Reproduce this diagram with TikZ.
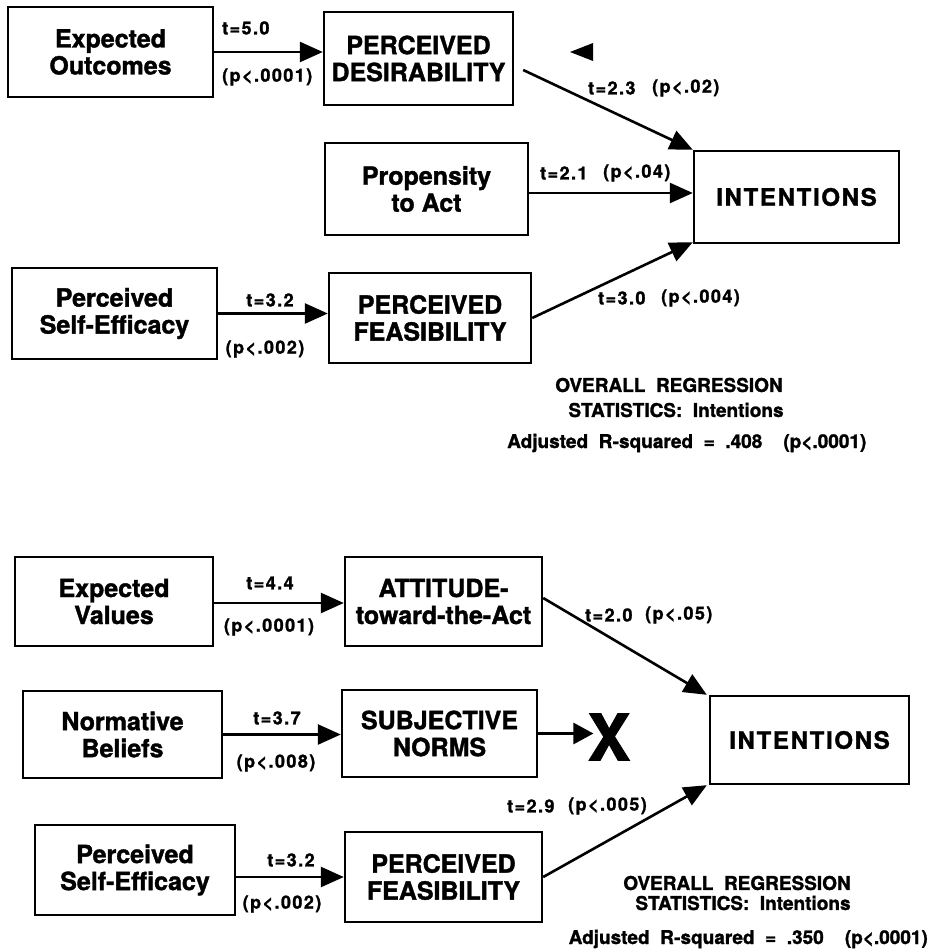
\documentclass[tikz,border=0pt]{standalone}
\usepackage{fontspec}
\setmainfont{TeX Gyre Heros}[BoldFeatures={FakeBold=1.4}]
\newfontfamily\labelfont{TeX Gyre Heros}[LetterSpace=8,BoldFeatures={FakeBold=1.4}]
\newfontfamily\spacedfont{TeX Gyre Heros}[LetterSpace=7,BoldFeatures={FakeBold=1.4}]
\usetikzlibrary{arrows.meta}

\begin{document}
\begin{tikzpicture}[x=1pt,y=-1pt,
  box/.style={draw, line width=2.4pt, align=center, inner sep=0pt,
    font=\fontsize{25}{27}\selectfont\bfseries},
  target/.style={box, font=\spacedfont\fontsize{24}{27}\selectfont\bfseries},
  arr/.style={line width=2.6pt, -{Triangle[length=23pt,width=20pt]}},
  stat/.style={inner sep=0pt, font=\labelfont\fontsize{18}{20}\selectfont\bfseries},
  summary/.style={inner sep=0pt, font=\fontsize{19}{22}\selectfont\bfseries},
]
\useasboundingbox (0,0) rectangle (930,952);

% ---------------- upper model ----------------
\node[box, minimum width=205pt, minimum height=90pt] (eo)   at (110.5,52)  {Expected\\Outcomes};
\node[box, minimum width=189pt, minimum height=93pt] (pd)   at (418.5,58.5) {PERCEIVED\\DESIRABILITY};
\node[box, minimum width=203pt, minimum height=92pt] (pa)   at (426.5,189) {Propensity\\to Act};
\node[target, minimum width=205pt, minimum height=92pt] (int1) at (796.5,197) {INTENTIONS};
\node[box, minimum width=205pt, minimum height=91pt] (pse1) at (114.5,313.5) {Perceived\\Self-Efficacy};
\node[box, minimum width=202pt, minimum height=90pt] (pf1)  at (430,318)   {PERCEIVED\\FEASIBILITY};

\draw[arr] (eo.east) -- (eo.east -| pd.west);
\draw[arr] ([xshift=9pt,yshift=-11.5pt]pd.east) -- (int1.north west);
\draw[arr] ([yshift=-4pt]pa.east) -- ([yshift=-4pt]pa.east -| int1.west);
\draw[arr] (pse1.east) -- (pse1.east -| pf1.west);
\draw[arr] (pf1.east) -- ([yshift=2pt]int1.south west);

% loose arrowhead beside the desirability box
\fill (570,52) -- (593,43) -- (593,61) -- cycle;

\node[stat, anchor=west] (t1)  at (222,28)  {t=5.0};
\node[stat, anchor=west] (p1)  at (222,77)  {(p<.0001)};
\node[stat, anchor=west] (t2)  at (588,88)  {t=2.3};
\node[stat, anchor=west] (p2)  at (652,88)  {(p<.02)};
\node[stat, anchor=west] (t3)  at (540,173) {t=2.1};
\node[stat, anchor=west] (p3)  at (603,173) {(p<.04)};
\node[stat] (t4) at (270,300) {t=3.2};
\node[stat] (p4) at (265,349) {(p<.002)};
\node[stat, anchor=west] (t5)  at (598,298) {t=3.0};
\node[stat, anchor=west] (p5)  at (661,298) {(p<.004)};

\node[summary] (s1a) at (669,385) {OVERALL~~REGRESSION};
\node[summary] (s1b) at (676,410) {STATISTICS:~~Intentions};
\node[summary, anchor=west] (s1c) at (507,443) {Adjusted~~R-squared~~=~~.408~~~~(p<.0001)};

% ---------------- lower model ----------------
\node[box, minimum width=198pt, minimum height=89pt] (ev)   at (114,601.5)   {Expected\\Values};
\node[box, minimum width=197pt, minimum height=89pt] (att)  at (443.5,601.5) {ATTITUDE-\\toward-the-Act};
\node[box, minimum width=199pt, minimum height=87pt] (nb)   at (122.5,734.5) {Normative\\Beliefs};
\node[box, minimum width=195pt, minimum height=87pt] (sn)   at (439.5,733.5) {SUBJECTIVE\\NORMS};
\node[target, minimum width=199pt, minimum height=88pt] (int2) at (809.5,740) {INTENTIONS};
\node[box, minimum width=200pt, minimum height=90pt] (pse2) at (135,870)     {Perceived\\Self-Efficacy};
\node[box, minimum width=197pt, minimum height=90pt] (pf2)  at (443.5,877)   {PERCEIVED\\FEASIBILITY};
\node[inner sep=0pt, font=\fontsize{64}{64}\selectfont\bfseries] (xmark) at (609,737) {X};

\draw[arr] ([yshift=-1.5pt]ev.east) -- ([yshift=-1.5pt]ev.east -| att.west);
\draw[arr] (nb.east) -- (nb.east -| sn.west);
\draw[arr] (pse2.east |- pf2.west) -- (pf2.west);
\draw[arr] ([yshift=3.5pt]att.east) -- ([xshift=-2pt]int2.north west);
\draw[arr] (pf2.east) -- ([xshift=-2pt]int2.south west);
\draw[line width=2.6pt, -{Triangle[length=20pt,width=21pt]}] (sn.east) -- ([xshift=6pt]sn.east -| xmark.west);

\node[stat] (t6) at (270,583) {t=4.4};
\node[stat] (p6) at (269,627) {(p<.0001)};
\node[stat] (t7) at (277,718) {t=3.7};
\node[stat] (p7) at (276,763) {(p<.008)};
\node[stat] (t8) at (291,860) {t=3.2};
\node[stat] (p8) at (282,904) {(p<.002)};
\node[stat, anchor=west] (t9)  at (585,615) {t=2.0};
\node[stat, anchor=west] (p9)  at (645,615) {(p<.05)};
\node[stat, anchor=west] (t10) at (507,806) {t=2.9};
\node[stat, anchor=west] (p10) at (568,806) {(p<.005)};

\node[summary] (s2a) at (737,883) {OVERALL~~REGRESSION};
\node[summary] (s2b) at (743,903) {STATISTICS:~~Intentions};
\node[summary, anchor=east] (s2c) at (928,939) {Adjusted~~R-squared~~=~~.350~~~~(p<.0001)};
\end{tikzpicture}
\end{document}
